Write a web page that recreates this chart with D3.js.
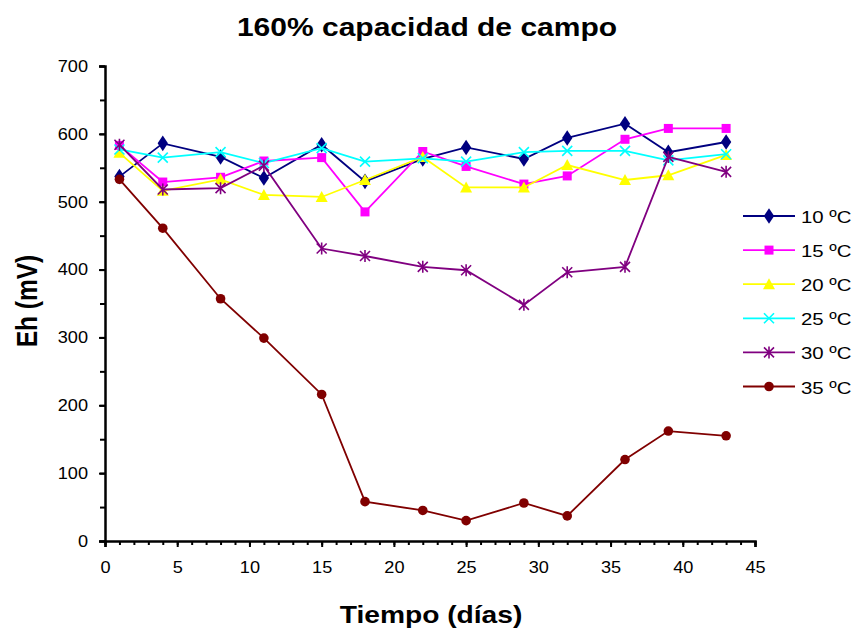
<!DOCTYPE html>
<html><head><meta charset="utf-8">
<script src="https://cdn.jsdelivr.net/npm/d3@7"></script>
<style>
body{margin:0;background:#fff;}
text{font-family:"Liberation Sans",Arial,sans-serif;}
</style></head>
<body><svg id="c" width="856" height="629"></svg>
<script>
const days = [1, 4, 8, 11, 15, 18, 22, 25, 29, 32, 36, 39, 43];
const s10 = [537, 586, 566, 535, 584, 530, 563, 580, 563, 594, 615, 573, 588];
const s15 = [583, 529, 536, 560, 565, 485, 574, 552, 526, 538, 592, 608, 608];
const s20 = [572, 516, 533, 510, 507, 532, 566, 521, 521, 554, 532, 539, 569];
const s25 = [577, 565, 573, 557, 579, 559, 564, 559, 573, 575, 575, 561, 570];
const s30 = [584, 518, 520, 553, 431, 420, 404, 399, 348, 396, 404, 566, 544];
const s35 = [533, 461, 357, 299, 216, 58, 45, 30, 56, 37, 120, 162, 155];
const seriesNames = ["10 ºC", "15 ºC", "20 ºC", "25 ºC", "30 ºC", "35 ºC"];
const xTicks = [0, 5, 10, 15, 20, 25, 30, 35, 40, 45];
const yTicks = [0, 100, 200, 300, 400, 500, 600, 700];

const colors = ["#000080", "#FF00FF", "#FFFF00", "#00FFFF", "#800080", "#800000"];
const markers = ["diamond", "square", "triangle", "x", "star", "circle"];
const allSeries = [s10, s15, s20, s25, s30, s35];

const SX = 1.2;
const SXT = 1.1;
const svg = d3.select("#c");
const L = 105, R = 755, T = 66, B = 541;
const x = d3.scaleLinear().domain([0, 45]).range([L, R]);
const y = d3.scaleLinear().domain([0, 700]).range([B, T]);

function stretchedText(px, py, size, str, anchor) {
  return svg.append("text").attr("transform", `translate(${px},${py}) scale(${SX},1)`)
    .attr("text-anchor", anchor || "middle").attr("font-size", size).text(str);
}

stretchedText(427, 36, 25, "160% capacidad de campo").attr("font-weight", "bold");
stretchedText(431, 623, 23.5, "Tiempo (días)").attr("font-weight", "bold");
svg.append("text").attr("transform", `translate(37,301) rotate(-90) scale(1,${SX})`).attr("text-anchor", "middle")
  .attr("font-size", 24.5).attr("font-weight", "bold").text("Eh (mV)");

const xMinor = d3.range(0, 46, 1);
const yMinor = d3.range(0, 701, 50);
const gx = svg.append("g").attr("transform", `translate(0,${B})`);
gx.call(d3.axisBottom(x).tickValues(xMinor).tickSize(4).tickFormat(""));
gx.call(g => g.select(".domain").remove());
const gx2 = svg.append("g").attr("transform", `translate(0,${B})`);
gx2.call(d3.axisBottom(x).tickValues(xTicks).tickSize(6).tickPadding(14).tickFormat(d3.format("d")));
gx2.select(".domain").attr("stroke-width", 2.5);
const gy = svg.append("g").attr("transform", `translate(${L},0)`);
gy.call(d3.axisLeft(y).tickValues(yMinor).tickSize(5).tickFormat(""));
gy.call(g => g.select(".domain").remove());
const gy2 = svg.append("g").attr("transform", `translate(${L},0)`);
gy2.call(d3.axisLeft(y).tickValues(yTicks).tickSize(6).tickPadding(9).tickFormat(d3.format("d")));
gy2.select(".domain").attr("stroke-width", 2.5);
[gx2, gy2].forEach(g => g.selectAll(".tick text").each(function () {
  const t = d3.select(this);
  const tx = +t.attr("x") || 0, ty = +t.attr("y") || 0;
  t.attr("x", 0).attr("y", 0).attr("transform", `translate(${tx},${ty}) scale(${SXT},1)`)
    .attr("font-size", 16.5).attr("fill", "#000");
}));
gy2.selectAll(".tick text").attr("transform", function () {
  return d3.select(this).attr("transform").replace(/translate\([^,]+,/, "translate(-17,");
});
svg.selectAll(".tick line").attr("stroke", "#000").attr("stroke-width", 2);

function drawMarker(g, type, cx, cy, color) {
  const s = g.append("g").attr("transform", `translate(${cx},${cy})`);
  if (type === "diamond") s.append("path").attr("d", d3.symbol(d3.symbolDiamond, 70)()).attr("fill", color).attr("transform","scale(1.15,1)");
  else if (type === "square") s.append("rect").attr("x", -4.5).attr("y", -4.5).attr("width", 9).attr("height", 9).attr("fill", color);
  else if (type === "triangle") s.append("path").attr("d", "M0,-6L6,5L-6,5Z").attr("fill", color);
  else if (type === "circle") s.append("circle").attr("r", 4.8).attr("fill", color);
  else if (type === "x") s.append("path").attr("d", "M-5,-5L5,5M-5,5L5,-5").attr("stroke", color).attr("stroke-width", 1.6);
  else if (type === "star") s.append("path").attr("d", "M-5,-5L5,5M-5,5L5,-5M0,-6L0,6").attr("stroke", color).attr("stroke-width", 1.6);
}

const line = d3.line().x((d, i) => x(days[i])).y(d => y(d));
allSeries.forEach((vals, k) => {
  const g = svg.append("g");
  g.append("path").datum(vals).attr("d", line).attr("fill", "none")
    .attr("stroke", colors[k]).attr("stroke-width", 1.8);
  vals.forEach((v, i) => drawMarker(g, markers[k], x(days[i]), y(v), colors[k]));
});

const lg = svg.append("g");
seriesNames.forEach((n, k) => {
  const yy = 216 + k * 34.1;
  lg.append("line").attr("x1", 743).attr("x2", 795).attr("y1", yy).attr("y2", yy)
    .attr("stroke", colors[k]).attr("stroke-width", 1.8);
  drawMarker(lg, markers[k], 769, yy, colors[k]);
  lg.append("text").attr("transform", `translate(801,${yy + 7}) scale(${SX},1)`)
    .attr("font-size", 17).text(n);
});
</script></body></html>
